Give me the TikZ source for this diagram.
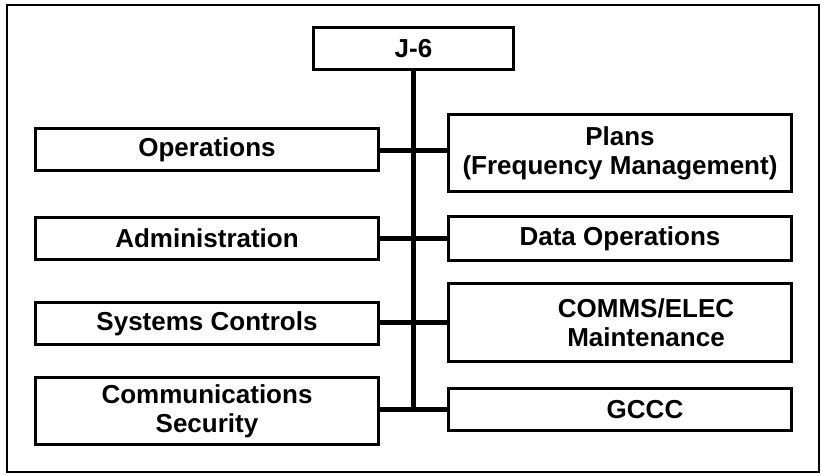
\documentclass[tikz,border=0pt]{standalone}
\usepackage{fontspec}
\setmainfont{Liberation Sans}
\usepackage{tikz}
\usetikzlibrary{shapes,positioning,calc}
\tikzstyle{ufficio} = [rectangle, minimum width=343pt, minimum height=42pt, text centered, align=center, draw=black, line width=3pt, fill=white, inner sep=0pt, font=\fontsize{26}{29}\selectfont\bfseries]
\tikzstyle{collegamento} = [line width=5pt, line cap=rect]

\begin{document}
\begin{tikzpicture}[x=1pt, y=-1pt]
				\useasboundingbox (0,0) rectangle (822,475);
				\draw[line width=2.5pt] (7,5) rectangle (819,472);
				\node (j) at (413.5,48.5) [ufficio, minimum width=200pt] {J-6};
				\node (op) at (207,149.5) [ufficio] {Operations};
				\node (ad) at (207,238.5) [ufficio] {Administration};
				\node (sc) at (207,323.5) [ufficio] {Systems Controls};
				\node (cs) at (207,411) [ufficio, minimum height=67pt] {Communications\\Security};
				\node (pl) at (620,153) [ufficio, minimum height=77pt] {Plans\\(Frequency Management)};
				\node (da) at (620,238.5) [ufficio, minimum height=44pt] {Data Operations};
				\node (ce) at (620,322.5) [ufficio, minimum height=78pt, label={[align=center, xshift=26pt, font=\fontsize{26}{29}\selectfont\bfseries]center:{COMMS/ELEC\\Maintenance}}] {};
				\node (gc) at (620,409.5) [ufficio, label={[xshift=25pt, font=\fontsize{26}{29}\selectfont\bfseries]center:GCCC}] {};
				\draw[collegamento] (j.south) -- (j.south |- gc.west);
				\draw[collegamento] (op.east |- 0,150) -- (pl.west |- 0,150);
				\draw[collegamento] (ad.east) -- (da.west);
				\draw[collegamento] (sc.east |- ce.west) -- (ce.west);
				\draw[collegamento] (cs.east |- gc.west) -- (gc.west);
				\end{tikzpicture}
\end{document}
